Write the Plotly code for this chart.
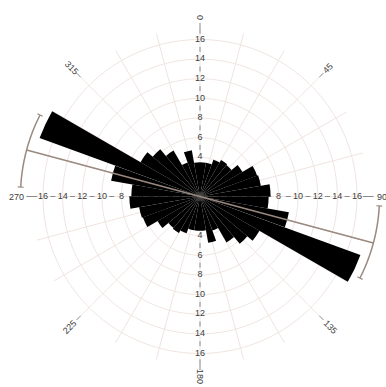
import numpy as np
import plotly.graph_objects as go

# ---- data -------------------------------------------------------------
# bidirectional rose: 10-degree bins over 0-180, mirrored onto 180-360
bin_width = 10
bin_centers = [5, 15, 25, 35, 45, 55, 65, 75, 85,
               95, 105, 115, 125, 135, 145, 155, 165, 175]
bin_values = [3.5, 3.5, 4.0, 4.3, 4.2, 5.0, 6.2, 6.3, 7.2,
              7.0, 9.2, 17.4, 7.0, 6.3, 5.4, 3.7, 4.8, 3.5]

radial_ticks = [2, 4, 6, 8, 10, 12, 14, 16]
angle_labels = [0, 45, 90, 135, 180, 225, 270, 315]

mean_direction = 285      # degrees
confidence_half = 12      # degrees either side of the mean
arc_radius = 18.3

# ---- geometry of the polar area (pixels) --------------------------------
W, H = 386, 387
CX, CY = 200.0, 196.5
PX_PER_UNIT = 9.81
RMAX = 18.9
R_PX = RMAX * PX_PER_UNIT
domain_x = [(CX - R_PX) / W, (CX + R_PX) / W]
domain_y = [1 - (CY + R_PX) / H, 1 - (CY - R_PX) / H]

GRID = "#efe4e0"
LINE = "#9a897f"
TEXT = "#3c3c3c"
FONT = "Liberation Sans"
GRID_SPOKE_STEP = 15
GRID_SPOKE_LEN = 17.2

theta_all = bin_centers + [c + 180 for c in bin_centers]
r_all = bin_values + bin_values

fig = go.Figure()

# background grid: rings at each radial tick and spokes every 15 degrees
ring_r, ring_t = [], []
circle = np.linspace(0, 360, 181)
for rv in radial_ticks:
    ring_r += [rv] * len(circle) + [None]
    ring_t += list(circle) + [None]
for ang in range(0, 360, GRID_SPOKE_STEP):
    ring_r += [0, GRID_SPOKE_LEN, None]
    ring_t += [ang, ang, None]
fig.add_trace(go.Scatterpolar(
    r=ring_r, theta=ring_t, mode="lines",
    line=dict(color=GRID, width=1),
    hoverinfo="skip", showlegend=False, subplot="polar"))

# short axis dashes between the tick labels
seg_r, seg_t = [], []
for ang in [0, 90, 180, 270]:
    for mid in [3, 5, 7, 9, 11, 13, 15]:
        seg_r += [mid - 0.25, mid + 0.25, None]
        seg_t += [ang, ang, None]
    seg_r += [16.6, 17.7, None]
    seg_t += [ang, ang, None]
for ang in [45, 135, 225, 315]:
    seg_r += [17.2, 17.8, None]
    seg_t += [ang, ang, None]
fig.add_trace(go.Scatterpolar(
    r=seg_r, theta=seg_t, mode="lines",
    line=dict(color="#8a8a8a", width=1),
    hoverinfo="skip", showlegend=False, subplot="polar"))

# radial tick labels along the four cardinal axes (beneath the bars)
for ang in [0, 90, 180, 270]:
    fig.add_trace(go.Scatterpolar(
        r=radial_ticks, theta=[ang] * len(radial_ticks),
        mode="text", text=[str(v) for v in radial_ticks],
        textfont=dict(size=9, color=TEXT, family=FONT),
        hoverinfo="skip", showlegend=False, subplot="polar"))

# rose petals
fig.add_trace(go.Barpolar(
    r=r_all, theta=theta_all, width=[bin_width] * len(theta_all),
    marker=dict(color="black", line=dict(width=0)),
    showlegend=False, subplot="polar2"))

# mean direction through the centre
fig.add_trace(go.Scatterpolar(
    r=[arc_radius, arc_radius],
    theta=[mean_direction, mean_direction - 180],
    mode="lines", line=dict(color=LINE, width=1.5),
    hoverinfo="skip", showlegend=False, subplot="polar2"))

# confidence arcs with end ticks on both sides
for centre in [mean_direction, mean_direction - 180]:
    th = np.linspace(centre - confidence_half, centre + confidence_half, 40)
    fig.add_trace(go.Scatterpolar(
        r=[arc_radius] * len(th), theta=th, mode="lines",
        line=dict(color=LINE, width=1.5),
        hoverinfo="skip", showlegend=False, subplot="polar2"))
    for end in [centre - confidence_half, centre + confidence_half]:
        fig.add_trace(go.Scatterpolar(
            r=[arc_radius - 0.3, arc_radius + 0.3], theta=[end, end],
            mode="lines", line=dict(color=LINE, width=1.2),
            hoverinfo="skip", showlegend=False, subplot="polar2"))

# angle labels, written along the radial direction
cx_p = (domain_x[0] + domain_x[1]) / 2
cy_p = (domain_y[0] + domain_y[1]) / 2
label_r = {0: 18.2, 45: 18.5, 90: 18.6, 135: 18.8,
           180: 18.3, 225: 18.8, 270: 18.7, 315: 18.5}
label_rot = {0: 90, 45: -45, 90: 0, 135: 45,
             180: 90, 225: -45, 270: 0, 315: 45}
annotations = []
for a in angle_labels:
    rr = label_r[a] * PX_PER_UNIT
    x = cx_p + rr * np.sin(np.radians(a)) / W
    y = cy_p + rr * np.cos(np.radians(a)) / H
    annotations.append(dict(
        x=x, y=y, xref="paper", yref="paper", text=str(a),
        showarrow=False, textangle=label_rot[a],
        font=dict(size=9, color=TEXT, family=FONT),
        xanchor="center", yanchor="middle"))

common_angular = dict(rotation=90, direction="clockwise",
                      showticklabels=False, ticks="", showgrid=False,
                      showline=False)
common_radial = dict(range=[0, RMAX], showgrid=False, showticklabels=False,
                     ticks="", showline=False)

fig.update_layout(
    width=W, height=H,
    margin=dict(l=0, r=0, t=0, b=0),
    paper_bgcolor="white",
    showlegend=False,
    annotations=annotations,
    polar=dict(
        domain=dict(x=domain_x, y=domain_y),
        bgcolor="white",
        radialaxis=common_radial,
        angularaxis=common_angular,
    ),
    polar2=dict(
        domain=dict(x=domain_x, y=domain_y),
        bgcolor="rgba(0,0,0,0)",
        bargap=0,
        radialaxis=common_radial,
        angularaxis=common_angular,
    ),
)

fig.write_html("out.html")
